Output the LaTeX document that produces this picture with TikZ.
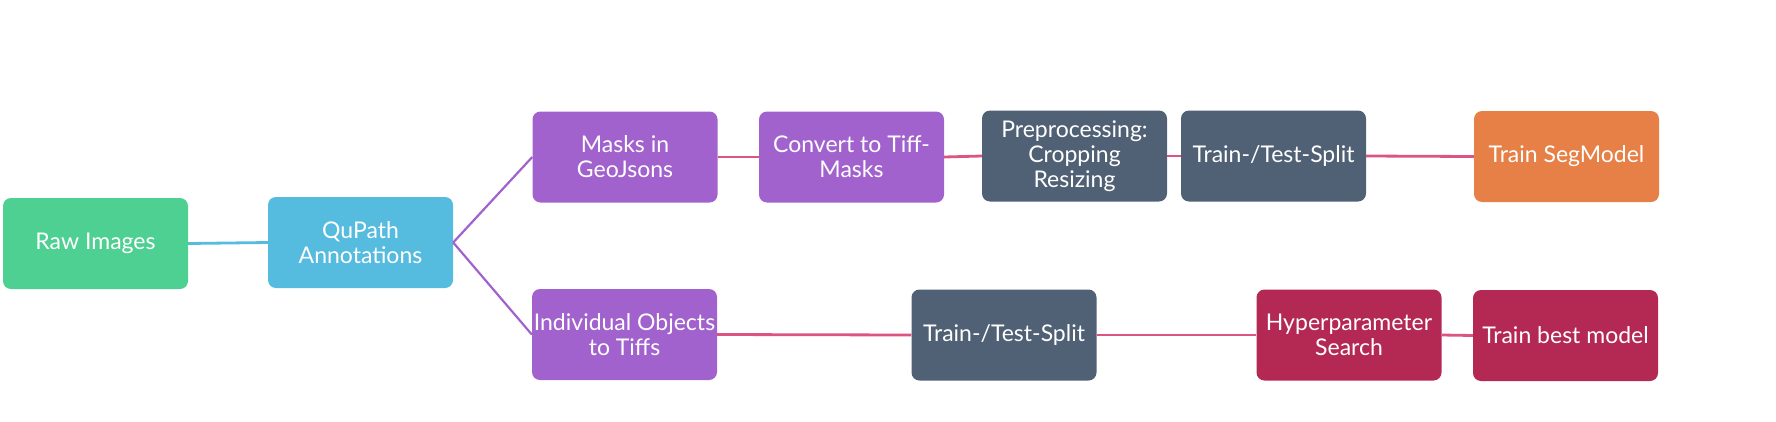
\documentclass[tikz,border=0pt]{standalone}
\usepackage{fontspec}
\setmainfont{Lato}
\definecolor{cgreen}{HTML}{4ED092}
\definecolor{cblue}{HTML}{55BBDF}
\definecolor{cpurple}{HTML}{A162CE}
\definecolor{cslate}{HTML}{506075}
\definecolor{corange}{HTML}{E68047}
\definecolor{ccrimson}{HTML}{B42953}
\definecolor{cpink}{HTML}{DB5580}
\tikzset{
  box/.style={rectangle, rounded corners=8pt, minimum width=185pt, minimum height=91pt,
    inner sep=1pt, text=white, align=center, font=\fontsize{23}{25}\selectfont},
  bluelink/.style={draw=cblue, line width=2.8pt},
  purplelink/.style={draw=cpurple, line width=2.2pt},
  pinklink/.style={draw=cpink, line width=2.8pt},
}
\begin{document}
\begin{tikzpicture}[x=1pt,y=-1pt]
\useasboundingbox (0,0) rectangle (1776,421);
\node[box, fill=cgreen] (raw) at (95.5,243.5) {Raw Images};
\node[box, fill=cblue] (qupath) at (360.5,242.5) {QuPath\\Annotations};
\node[box, fill=cpurple] (masks) at (625,157) {Masks in\\GeoJsons};
\node[box, fill=cpurple] (convert) at (851.5,157) {Convert to Tiff-\\Masks};
\node[box, fill=cslate] (preproc) at (1074.5,156) {Preprocessing:\\Cropping\\Resizing};
\node[box, fill=cslate] (splitA) at (1273.5,156) {Train-/Test-Split};
\node[box, fill=corange] (seg) at (1566.5,156.5) {Train SegModel};
\node[box, fill=cpurple] (indiv) at (624.5,334.5) {Individual Objects\\to Tiffs};
\node[box, fill=cslate] (splitB) at (1004,335) {Train-/Test-Split};
\node[box, fill=ccrimson] (hyper) at (1349,335) {Hyperparameter\\Search};
\node[box, fill=ccrimson] (best) at (1565.5,335.5) {Train best model};
\draw[bluelink] (raw.east) -- (qupath.west);
\draw[purplelink] (qupath.east) -- (masks.west);
\draw[purplelink] (qupath.east) -- (indiv.west);
\draw[pinklink] (masks.east) -- (convert.west);
\draw[pinklink] (convert.east) -- (preproc.west);
\draw[pinklink] (preproc.east) -- (splitA.west);
\draw[pinklink] (splitA.east) -- (seg.west);
\draw[pinklink] (indiv.east) -- (splitB.west);
\draw[pinklink] (splitB.east) -- (hyper.west);
\draw[pinklink] (hyper.east) -- (best.west);
\end{tikzpicture}
\end{document}
